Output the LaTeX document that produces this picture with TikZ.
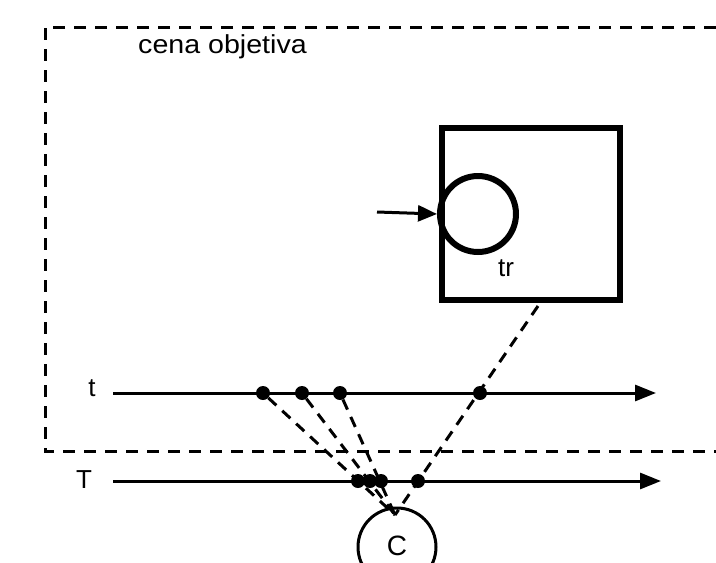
\documentclass[tikz,border=0pt]{standalone}
\usepackage{fontspec}
\setmainfont{Liberation Sans}
\usetikzlibrary{arrows.meta}
\begin{document}
\begin{tikzpicture}[x=1pt,y=-1pt,
  frame/.style={line width=3pt,dash pattern=on 12pt off 9pt},
  proj/.style={line width=3pt,dash pattern=on 11pt off 8pt},
  axis/.style={line width=3pt,-{Triangle[length=21pt,width=16pt]}},
  thick box/.style={line width=6pt},
  dot/.style={circle,fill=black,inner sep=0pt,minimum size=14pt},
  lbl/.style={font=\fontsize{26}{30}\selectfont}]
\useasboundingbox (0,0) rectangle (716,563);
% dashed scene frame
\coordinate (fr1) at (716,27);
\coordinate (fr2) at (45,27);
\coordinate (fr3) at (45,451);
\coordinate (fr4) at (716,451);
\draw[frame] (fr1) -- (fr2) -- (fr3) -- (fr4);
\node[lbl,anchor=west,xscale=1.1,inner sep=0pt] (cena) at (138,47) {cena objetiva};
% box with tr circle
\node[thick box,draw,minimum width=178pt,minimum height=172pt,inner sep=0pt] (box) at (531,214) {};
\node[thick box,draw,circle,minimum size=76pt,inner sep=0pt] (trc) at (478,214) {};
\node[lbl] (tr) at (506,268) {tr};
\coordinate (arrs) at (377,212);
\draw[line width=3pt,-{Triangle[length=19pt,width=16pt]}] (arrs) -- (trc.west);
% axes
\node[lbl] (tl) at (92,388) {t};
\node[lbl] (Tl) at (84,480) {T};
\coordinate (ts) at (113,393);
\coordinate (te) at (656,393);
\coordinate (Ts) at (113,481);
\coordinate (Te) at (661,481);
\draw[axis] (ts) -- (te);
\draw[axis] (Ts) -- (Te);
% observer circle
\node[draw,circle,line width=3pt,minimum size=78pt,inner sep=0pt] (obs) at (397,547) {};
\node[font=\fontsize{28}{32}\selectfont] (C) at (397,546) {C};
\coordinate (eye) at (395,515);
\coordinate (boxb) at (538,306);
% projection lines
\node[dot] (t1) at (263,393) {};
\node[dot] (t2) at (302,393) {};
\node[dot] (t3) at (340,393) {};
\node[dot] (t4) at (480,393) {};
\draw[proj] (t1) -- (eye);
\draw[proj] (t2) -- (eye);
\draw[proj] (t3) -- (eye);
\draw[proj] (boxb) -- (eye);
\node[dot] (T1) at (358,481) {};
\node[dot] (T2) at (370,481) {};
\node[dot] (T3) at (381,481) {};
\node[dot] (T4) at (418,481) {};
\end{tikzpicture}
\end{document}
